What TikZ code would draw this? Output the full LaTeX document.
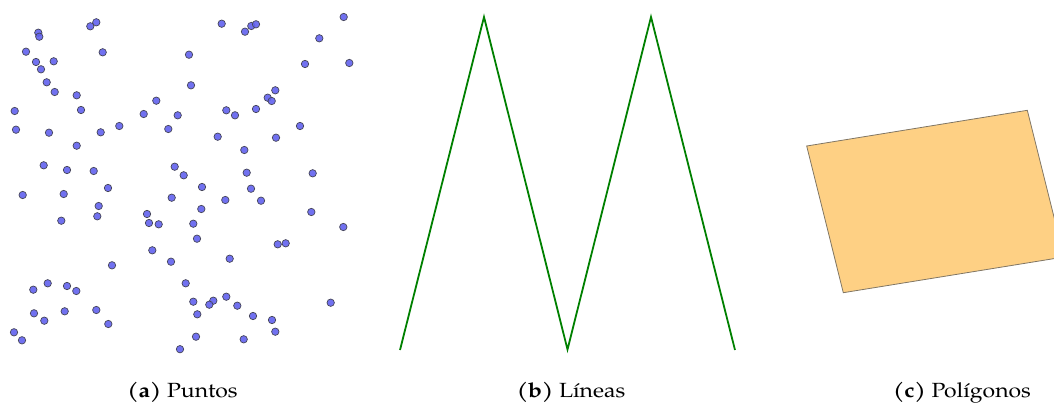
\documentclass[tikz,border=0pt]{standalone}
\usepackage{fontspec}
\setmainfont{TeX Gyre Pagella}
\definecolor{ptfill}{RGB}{98,98,238}
\definecolor{ptdraw}{RGB}{70,70,90}
\definecolor{lngreen}{RGB}{0,128,0}
\definecolor{polyfill}{RGB}{254,208,132}
\definecolor{polydraw}{RGB}{128,118,100}
\newcommand{\captxt}[1]{\scalebox{1.12}[1]{#1}}
\tikzset{
  pt/.style={fill=ptfill, draw=ptdraw, line width=0.7pt, fill opacity=0.9},
  ln/.style={draw=lngreen, line width=1.8pt, line join=miter},
  poly/.style={fill=polyfill, draw=polydraw, line width=0.8pt},
  captext/.style={font=\fontsize{20.5}{23}\selectfont, anchor=base, inner sep=0pt}
}
\begin{document}
\begin{tikzpicture}[x=1pt,y=-1pt]
\useasboundingbox (0,0) rectangle (1054,406);
\clip (0,0) rectangle (1054,406);
% points
\foreach \px/\py in {
38.3/32.7, 39.3/36.7, 90.3/26.3, 96.3/22.3, 26/51.7, 102.7/52.3, 36/62, 53.7/61.3,
41/69.3, 46.7/82.3, 54.7/92, 76.7/95.3, 14.7/111, 81/110, 156.3/100.7, 143.7/114,
177.7/115.3, 16/129.7, 49/132.7, 100.7/132.3, 119.3/126, 168.3/129, 76.7/145.7,
43.7/165.3, 67/170, 93.7/171, 174.7/166.7,
221.7/23.7, 245/31.7, 251.3/26, 256/24.3, 343.7/17, 319.3/38.3, 189/54.7, 305/64,
349.3/63, 191/85.3, 275.3/90.3, 267.7/97.7, 271.7/101, 226.3/110.3, 235/115.3,
256/109, 300/126, 217.7/136.7, 276/137.7, 244.3/150, 183.7/175.3, 246.7/172.7, 312.7/173.3,
22.7/195, 63.7/194, 108/188, 171.7/197.7, 98.7/206, 61.3/220.7, 97.3/216.3, 147/214,
149/223, 158.7/224.3, 152.3/250.3, 171/261.7, 112/265.3, 33.3/289.7, 47.7/283.3, 67/286,
76.3/291, 34/313.3, 44.3/320.7, 64.7/311.3, 96.3/310, 108.3/324, 14/332.3, 22/340.3, 180/349.2,
202/187, 251/188.7, 225.3/200, 261/200.7, 201.3/209, 311.3/212, 193.3/223.7, 343.3/227,
197/238.7, 277.7/244.3, 285.7/243.3, 229.7/258.7, 185.7/283.3, 193.3/301.7, 213.3/300.7,
209.3/304.7, 226.3/296.7, 237.3/305.7, 330.7/302.7, 197.3/314.3, 253/316, 272/320,
275.3/331.7, 196/336.7, 243.7/339.3}
  \path[pt] (\px,\py) circle[radius=3.7];
% lines
\coordinate (l1) at (400,350);
\coordinate (l2) at (484,17);
\coordinate (l3) at (567.5,349.5);
\coordinate (l4) at (651,17);
\coordinate (l5) at (735,350);
\draw[ln] (l1) -- (l2) -- (l3) -- (l4) -- (l5);
% polygon
\coordinate (p1) at (806.7,146);
\coordinate (p2) at (1027.3,110.3);
\coordinate (p3) at (1064,257);
\coordinate (p4) at (843.3,292.7);
\draw[poly] (p1) -- (p2) -- (p3) -- (p4) -- cycle;
% captions
\node[captext] (ca) at (182.5,397.5) {\captxt{\textbf{(a)} Puntos}};
\node[captext] (cb) at (571,397.5) {\captxt{\textbf{(b)} Líneas}};
\node[captext] (cc) at (962,397.5) {\captxt{\textbf{(c)} Polígonos}};
\end{tikzpicture}
\end{document}
